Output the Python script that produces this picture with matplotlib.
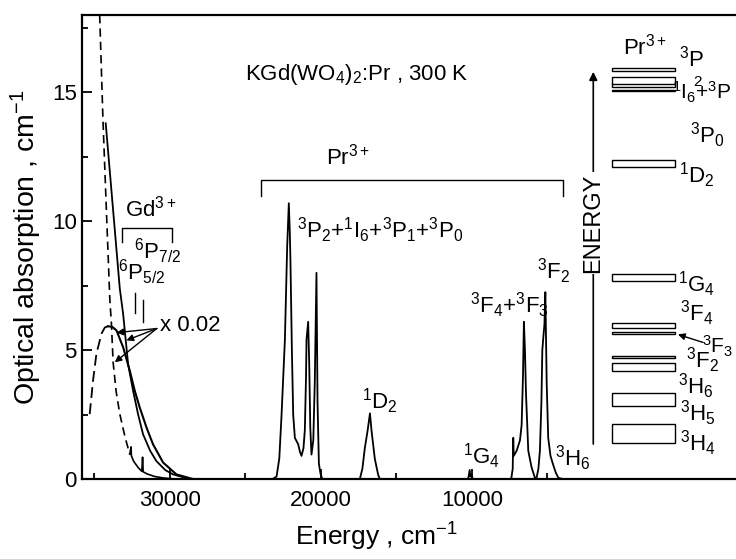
import matplotlib
matplotlib.use('Agg')
import matplotlib.pyplot as plt
from matplotlib.patches import Rectangle

plt.rcParams['font.family'] = 'Liberation Sans'
plt.rcParams['mathtext.fontset'] = 'custom'
plt.rcParams['mathtext.rm'] = 'Liberation Sans'
plt.rcParams['mathtext.it'] = 'Liberation Sans:italic'
plt.rcParams['mathtext.default'] = 'regular'

# Pr3+ absorption spectrum (cm-1, optical absorption cm-1)
pr_energy = [28500, 23200, 22930, 22750, 22600, 22380, 22230, 22120, 22050, 22010,
             21920, 21830, 21720, 21500, 21380, 21280, 21150, 21060, 20980, 20950,
             20840, 20770, 20700, 20620, 20500, 20400, 20290, 20220, 20130, 20020,
             19900, 17420, 17250, 17090, 16900, 16750, 16650, 16540, 16430, 16310,
             16200, 16090, 10250, 10150, 10100, 10020, 9950, 7400, 7300, 7265,
             7230, 7040, 6820, 6710, 6620, 6560, 6490, 6420, 6270, 6050,
             5830, 5720, 5600, 5500, 5400, 5340, 5280, 5200, 5140, 5050,
             4950, 4800, 4620, 4450, 4280, 4000, 800]
pr_absorb = [0, 0, 0.1, 0.8, 2.5, 5.4, 9.0, 10.7, 9.5, 8.4,
             5.1, 2.5, 1.6, 1.35, 1.05, 0.9, 1.2, 1.9, 4.0, 5.4,
             6.1, 4.5, 2.0, 0.95, 1.5, 3.8, 8.0, 3.0, 0.6, 0.2,
             0, 0, 0.4, 1.2, 1.9, 2.55, 1.9, 1.35, 0.8, 0.45,
             0.15, 0, 0, 0.35, 0.1, 0.15, 0, 0, 0.4, 1.6,
             0.9, 1.1, 1.5, 2.1, 4.0, 6.1, 5.0, 3.3, 1.1, 0.45,
             0.05, 0.05, 0.4, 1.1, 3.0, 5.0, 5.45, 6.0, 7.25, 3.7,
             1.6, 0.9, 0.55, 0.25, 0.05, 0, 0]

# UV absorption edge, solid
edge_energy = [34240, 33310, 33090, 32760, 32430, 32100, 31770, 31300, 30890, 30300, 29780, 28680]
edge_absorb = [13.8, 7.4, 6.42, 4.47, 3.43, 2.52, 1.74, 1.1, 0.7, 0.35, 0.18, 0]

# UV absorption edge, dashed
dedge_energy = [34640, 34420, 34200, 33970, 33860, 33750, 33550, 33310, 32950, 32650]
dedge_absorb = [18.0, 13.9, 10.5, 7.0, 6.0, 4.53, 3.4, 2.53, 1.6, 0.97]

# thin sample tail with Gd3+ lines
tail_energy = [32650, 32560, 32540, 32400, 32100, 31850, 31800, 31760, 31500, 31000, 30400, 29800, 29000]
tail_absorb = [0.97, 1.25, 0.9, 0.7, 0.45, 0.3, 0.85, 0.28, 0.2, 0.1, 0.04, 0.01, 0]

# x 0.02 band, dashed rising part
band_d_energy = [35300, 35080, 34855, 34520, 34300, 34086]
band_d_absorb = [2.52, 3.82, 4.86, 5.64, 5.88, 5.93]

# x 0.02 band, solid falling part
band_s_energy = [34086, 33800, 33530, 33090, 32650, 32320, 31990, 31540, 31110, 30440, 29560, 28460]
band_s_absorb = [5.93, 5.9, 5.77, 5.12, 4.21, 3.43, 2.78, 2.0, 1.35, 0.64, 0.18, 0]

# Pr3+ energy levels (bottom, top) in the level scheme
level_names = ['3P2', '1I6+3P1', '3P0', '1D2', '1G4', '3F4', '3F3', '3F2', '3H6', '3H5', '3H4']
level_low = [15.83, 15.2, 15.06, 12.09, 7.69, 5.87, 5.61, 4.69, 4.18, 2.82, 1.38]
level_high = [15.93, 15.6, 15.11, 12.39, 7.97, 6.05, 5.70, 4.77, 4.51, 3.34, 2.13]

fig = plt.figure(figsize=(7.36, 5.59), dpi=100)
ax = fig.add_axes([0.111, 0.143, 0.889, 0.830])

ax.plot(pr_energy, pr_absorb, color='black', lw=1.3)
ax.plot(edge_energy, edge_absorb, color='black', lw=1.3)
ax.plot(tail_energy, tail_absorb, color='black', lw=1.2)
ax.plot(band_s_energy, band_s_absorb, color='black', lw=1.5)
ax.plot(dedge_energy, dedge_absorb, color='black', lw=1.2, ls=(0, (5, 3)))
ax.plot(band_d_energy, band_d_absorb, color='black', lw=1.3, ls=(0, (6, 3)))

ax.set_xlim(35830, -7480)
ax.set_ylim(0, 18.0)
ax.set_xticks([30000, 20000, 10000])
ax.set_xticks([35000, 25000, 15000, 5000], minor=True)
ax.set_yticks([0, 5, 10, 15])
ax.set_yticks([2.5, 7.5, 12.5, 17.5], minor=True)
ax.tick_params(which='both', direction='in', labelsize=16, width=1.3)
ax.tick_params(which='major', length=7)
ax.tick_params(which='minor', length=4)
ax.tick_params(axis='x', pad=8)
ax.spines['right'].set_visible(False)
for s in ['left', 'bottom', 'top']:
    ax.spines[s].set_linewidth(1.6)

ax.set_xlabel('Energy , cm$^{-1}$', fontsize=19, labelpad=4)
ax.xaxis.set_label_coords(0.45, -0.09)
ax.set_ylabel('Optical absorption , cm$^{-1}$', fontsize=20.5, labelpad=6)

fs = 16
ax.text(25030, 15.7, 'KGd(WO$_4$)$_2$:Pr , 300 K', fontsize=fs, va='center')

# Pr3+ bracket
ax.plot([23930, 23930, 3950, 3950], [11.0, 11.6, 11.6, 11.0], color='black', lw=1.0)
ax.text(18210, 12.5, 'Pr$^{3+}$', fontsize=fs, ha='center', va='center')
ax.text(21590, 9.35, '$^3$P$_2$+$^1$I$_6$+$^3$P$_1$+$^3$P$_0$', fontsize=fs)
ax.text(17280, 2.73, '$^1$D$_2$', fontsize=fs)
ax.text(10600, 0.6, '$^1$G$_4$', fontsize=fs)
ax.text(10130, 6.43, '$^3$F$_4$+$^3$F$_3$', fontsize=fs)
ax.text(5700, 7.75, '$^3$F$_2$', fontsize=fs)
ax.text(4500, 0.5, '$^3$H$_6$', fontsize=fs)

# Gd3+ bracket and labels
ax.plot([33180, 33180, 29870, 29870], [9.19, 9.74, 9.74, 9.19], color='black', lw=1.0)
ax.text(31260, 10.48, 'Gd$^{3+}$', fontsize=fs, ha='center', va='center')
ax.text(32350, 8.55, '$^6$P$_{7/2}$', fontsize=fs)
ax.text(33450, 7.71, '$^6$P$_{5/2}$', fontsize=fs)
ax.plot([32320, 32320], [6.43, 7.2], color='black', lw=1.0)
ax.plot([31770, 31770], [6.08, 6.93], color='black', lw=1.0)

# x 0.02 arrows
ax.text(30660, 5.96, 'x 0.02', fontsize=fs, va='center')
for tip in [(33530, 5.68), (32870, 5.38), (33640, 4.53)]:
    ax.annotate('', xy=tip, xytext=(30860, 5.84),
                arrowprops=dict(arrowstyle='-|>', color='black', lw=1.0,
                                mutation_scale=10, shrinkA=0, shrinkB=0))

# energy level scheme
for lo, hi in zip(level_low, level_high):
    ax.add_patch(Rectangle((748, lo), -3440 - 748, hi - lo, fill=False,
                           edgecolor='black', lw=1.0))
ax.plot([748, -3440], [15.31, 15.31], color='black', lw=1.0)

ax.annotate('', xy=(1967, 15.8), xytext=(1967, 1.36),
            arrowprops=dict(arrowstyle='-|>', color='black', lw=1.2,
                            mutation_scale=12, shrinkA=0, shrinkB=0))
ax.text(1967, 9.93, 'ENERGY', fontsize=17, rotation=90, ha='center', va='center',
        bbox=dict(facecolor='white', edgecolor='none', pad=1))

ax.text(-1460, 16.79, 'Pr$^{3+}$', fontsize=fs, ha='center', va='center')
ax.text(-3710, 16.0, '$^3$P', fontsize=fs)
ax.text(-4640, 15.25, '2', fontsize=11)
ax.text(-3240, 14.73, '$^1$I$_6$+$^3$P', fontsize=15)
ax.text(-4440, 13.05, '$^3$P$_0$', fontsize=fs)
ax.text(-3710, 11.49, '$^1$D$_2$', fontsize=fs)
ax.text(-3640, 7.25, '$^1$G$_4$', fontsize=fs)
ax.text(-3770, 6.15, '$^3$F$_4$', fontsize=fs)
ax.text(-5250, 4.87, '$^3$F$_3$', fontsize=15)
ax.annotate('', xy=(-3640, 5.61), xytext=(-5300, 5.30),
            arrowprops=dict(arrowstyle='-|>', color='black', lw=1.0,
                            mutation_scale=10, shrinkA=0, shrinkB=0))
ax.text(-4170, 4.32, '$^3$F$_2$', fontsize=fs)
ax.text(-3640, 3.31, '$^3$H$_6$', fontsize=fs)
ax.text(-3770, 2.26, '$^3$H$_5$', fontsize=fs)
ax.text(-3770, 1.09, '$^3$H$_4$', fontsize=fs)

fig.savefig('out.png', dpi=100)
